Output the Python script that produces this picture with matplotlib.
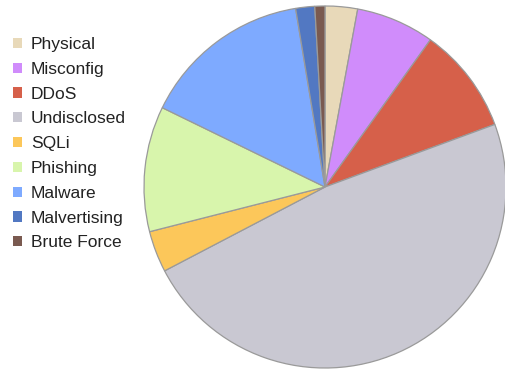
import matplotlib
matplotlib.use('Agg')
import matplotlib.pyplot as plt
from matplotlib.patches import Patch

plt.rcParams['font.family'] = ['Liberation Sans', 'DejaVu Sans']

categories = ['Physical', 'Misconfig', 'DDoS', 'Undisclosed', 'SQLi',
              'Phishing', 'Malware', 'Malvertising', 'Brute Force']
shares = [2.9, 7.0, 9.5, 48.0, 3.7, 11.2, 15.2, 1.7, 0.9]
colors = ['#e8d9b9', '#d08cfb', '#d6604a', '#c9c8d2', '#fcc75a',
          '#d8f5ac', '#7eaaff', '#5278c2', '#7a5a50']

fig = plt.figure(figsize=(5.05, 3.7), dpi=100)
W, H = 505, 370
cx, cy, r = 325, 187, 181
ax = fig.add_axes([(cx - r) / W, (H - cy - r) / H, 2 * r / W, 2 * r / H])
ax.pie(shares, colors=colors, startangle=90, counterclock=False,
       wedgeprops=dict(edgecolor='#9a9a9a', linewidth=0.9))
ax.set_aspect('equal')
ax.set_xlim(-1, 1)
ax.set_ylim(-1, 1)
ax.axis('off')

handles = [Patch(facecolor=c, edgecolor='none') for c in colors]
fig.legend(handles, categories, loc='upper left', bbox_to_anchor=(13 / W, 1 - 37 / H),
           frameon=False, fontsize=12.5, handlelength=0.52, handleheight=0.52,
           handletextpad=0.52, labelspacing=0.565, borderpad=0, borderaxespad=0,
           labelcolor='#222222')

fig.savefig('out.png', dpi=100)
